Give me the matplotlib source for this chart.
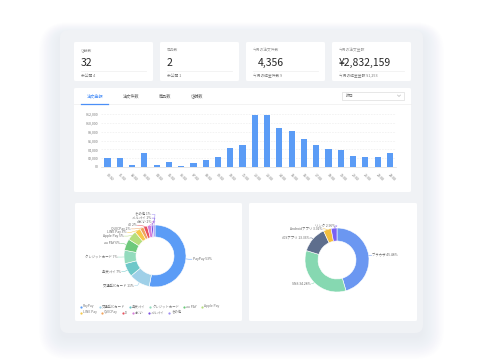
import numpy as np
import matplotlib
matplotlib.use("Agg")
import matplotlib.pyplot as plt
from matplotlib.patches import FancyBboxPatch, Rectangle

plt.rcParams["font.family"] = ["Noto Sans CJK JP", "DejaVu Sans"]

W, H = 484, 363

# --- data ---
card_titles = ["店舗数", "商品数", "今月の注文件数", "今月の注文金額"]
card_values = ["32", "2", "4,356", "¥2,832,159"]
card_notes = ["未公開 4", "未公開 1", "今月の返金件数 9", "今月の返金金額 ¥1,253"]

tabs = ["注文金額", "注文件数", "商品数", "店舗数"]
period = "昨日"

hours = ["%02d:00" % h for h in range(24)]
sales = [2000, 2100, 500, 3200, 450, 1050, 300, 1000, 1650, 2350, 4200, 5000,
         11800, 11800, 8800, 8100, 6400, 5000, 4150, 3850, 2400, 2350, 2350, 3200]
yticks = [0, 2000, 4000, 6000, 8000, 10000, 12000]

pay_names = ["PayPay", "交通系ICカード", "楽天ペイ", "クレジットカード", "au PAY", "Apple Pay",
             "LINE Pay", "QUICPay", "iD", "d払い", "メルペイ", "その他"]
pay_share = [53, 11, 7, 7, 6, 5, 3, 2, 2, 2, 1, 1]
pay_colors = ["#5b9cf6", "#9fd0e8", "#6ec8c9", "#93dbbd", "#6dc97b", "#b5de7d",
              "#f6c94a", "#f1a35c", "#e8525e", "#d57ed9", "#7b4fe0", "#9f8ef2"]

src_names = ["ブラウザ", "SNS", "iOSアプリ", "Androidアプリ", "リンク"]
src_share = [45.48, 34.28, 13.36, 3.92, 2.96]
src_colors = ["#6b97f1", "#86d8b1", "#5e6e8d", "#f4bf3e", "#7a60f2"]

fig = plt.figure(figsize=(W / 100, H / 100), dpi=100)
fig.patch.set_facecolor("white")

bg = fig.add_axes([0, 0, 1, 1])
bg.set_xlim(0, W)
bg.set_ylim(H, 0)
bg.axis("off")


def box(x0, y0, x1, y1, color, r=2, **kw):
    p = FancyBboxPatch((x0, y0), x1 - x0, y1 - y0,
                       boxstyle="round,pad=0,rounding_size=%s" % r,
                       fc=color, ec="none", **kw)
    bg.add_patch(p)
    return p


def px_axes(x0, y0, x1, y1):
    return fig.add_axes([x0 / W, 1 - y1 / H, (x1 - x0) / W, (y1 - y0) / H])


# soft shadow + panel
for i in range(14):
    g = i * 1.6
    box(60 - g, 35 - g * 0.6, 423 + g, 338 + g, "#d3daee", r=8 + g, alpha=0.035)
box(60, 30, 423, 333, "#f0f2f5", r=8)

# stat cards
value_dx = [7, 7, 12, 7]
for i in range(4):
    x0 = 74 + 86 * i
    box(x0, 42, x0 + 79, 81, "white", r=1.5)
    bg.text(x0 + 7, 50, card_titles[i], fontsize=2.7, color="#999999", va="center")
    bg.text(x0 + value_dx[i], 62.5, card_values[i], fontsize=7.5, color="#262626", va="center")
    bg.plot([x0 + 7, x0 + 72], [70.5, 70.5], color="#eeeeee", lw=0.5)
    bg.text(x0 + 7, 75.8, card_notes[i], fontsize=2.7, color="#777777", va="center")

# bar chart card
box(74, 88, 411, 192, "white", r=1.5)
tab_x = [95, 131, 165, 197]
for i, t in enumerate(tabs):
    bg.text(tab_x[i], 96, t, fontsize=3.0, ha="center", va="center",
            color="#4a8ff7" if i == 0 else "#666666")
bg.plot([74, 411], [104, 104], color="#eeeeee", lw=0.5)
bg.plot([81, 108], [103.6, 103.6], color="#4a8ff7", lw=0.9)
bg.add_patch(Rectangle((342, 91.5), 62, 8.5, fc="white", ec="#dddddd", lw=0.5))
bg.text(346, 95.8, period, fontsize=2.8, color="#666666", va="center")
bg.plot([397.5, 399, 400.5], [95, 96.5, 95], color="#aaaaaa", lw=0.4)

ax = px_axes(101.4, 114, 396, 167)
x = np.arange(len(sales))
ax.bar(x, sales, width=0.5, color="#5b9cf6", zorder=3)
ax.set_xlim(-0.5, len(sales) - 0.5)
ax.set_ylim(0, 12000)
ax.set_yticks(yticks)
ax.set_yticklabels(["¥%s" % format(v, ",") for v in yticks])
ax.set_xticks(x)
ax.set_xticklabels(hours, rotation=-45, ha="left", va="top", rotation_mode="anchor")
ax.yaxis.grid(True, color="#ebebeb", lw=0.4, ls=(0, (3, 2)))
ax.set_axisbelow(True)
for s in ["top", "right", "left"]:
    ax.spines[s].set_visible(False)
ax.spines["bottom"].set_color("#dddddd")
ax.spines["bottom"].set_linewidth(0.5)
ax.tick_params(length=0, labelsize=2.6, colors="#777777")
ax.tick_params(axis="x", pad=4)
ax.tick_params(axis="y", pad=2)
ax.patch.set_alpha(0)


def donut(box_px, cx, cy, R, width, values, colors, names, fmt, r2, seg, gap):
    x0, y0, x1, y1 = box_px
    box(x0, y0, x1, y1, "white", r=1.5)
    pa = px_axes(x0, y0, x1, y1)
    wedges, _ = pa.pie(values, colors=colors, startangle=90, counterclock=False,
                       radius=R, center=(cx, -cy),
                       wedgeprops=dict(width=width, edgecolor="white", linewidth=0.4))
    pa.set_xlim(x0, x1)
    pa.set_ylim(-y1, -y0)
    pa.set_aspect("auto")
    pa.axis("off")
    items = []
    for w, n, v in zip(wedges, names, values):
        a = np.deg2rad((w.theta1 + w.theta2) / 2)
        side = 1 if np.cos(a) >= 0 else -1
        items.append(dict(a=a, side=side, y=-cy + (R + r2) * np.sin(a), label=fmt(n, v), color=w.get_facecolor()))
    for side in (1, -1):
        grp = sorted([it for it in items if it["side"] == side], key=lambda d: d["y"])
        for _ in range(200):
            for j in range(len(grp) - 1):
                d = grp[j + 1]["y"] - grp[j]["y"]
                if d < gap:
                    grp[j]["y"] -= (gap - d) / 2
                    grp[j + 1]["y"] += (gap - d) / 2
    for it in items:
        a, side, ly = it["a"], it["side"], it["y"]
        ex, ey = cx + R * np.cos(a), -cy + R * np.sin(a)
        dy = ly + cy
        rr = R + r2
        lx = cx + side * np.sqrt(max(rr ** 2 - dy ** 2, 0))
        pa.plot([ex, lx, lx + side * seg], [ey, ly, ly], color=it["color"], lw=0.35)
        pa.text(lx + side * (seg + 0.8), ly, it["label"], fontsize=2.4, color="#666666",
                ha="left" if side > 0 else "right", va="center")
    return pa


donut((75, 203, 242, 321), 155, 256, 31, 12, pay_share, pay_colors, pay_names,
      lambda n, v: "%s %d%%" % (n, v), r2=3, seg=3, gap=3.6)
donut((249, 203, 417, 321), 337, 260, 32, 13, src_share, src_colors, src_names,
      lambda n, v: "%s %.2f%%" % (n, v), r2=1.5, seg=1.5, gap=3.0)

# legend for payment donut (flowing rows)
renderer = fig.canvas.get_renderer()
rows = [range(0, 6), range(6, 12)]
for r, idx in enumerate(rows):
    cur = 80
    yy = 306.5 + r * 6
    for k in idx:
        bg.plot(cur + 1, yy, "o", ms=1.6, color=pay_colors[k], mec="none")
        t = bg.text(cur + 3, yy, pay_names[k], fontsize=2.4, color="#777777", va="center")
        wpx = t.get_window_extent(renderer).width
        cur += 3 + wpx + 4

fig.savefig("out.png", dpi=100, facecolor="white")
